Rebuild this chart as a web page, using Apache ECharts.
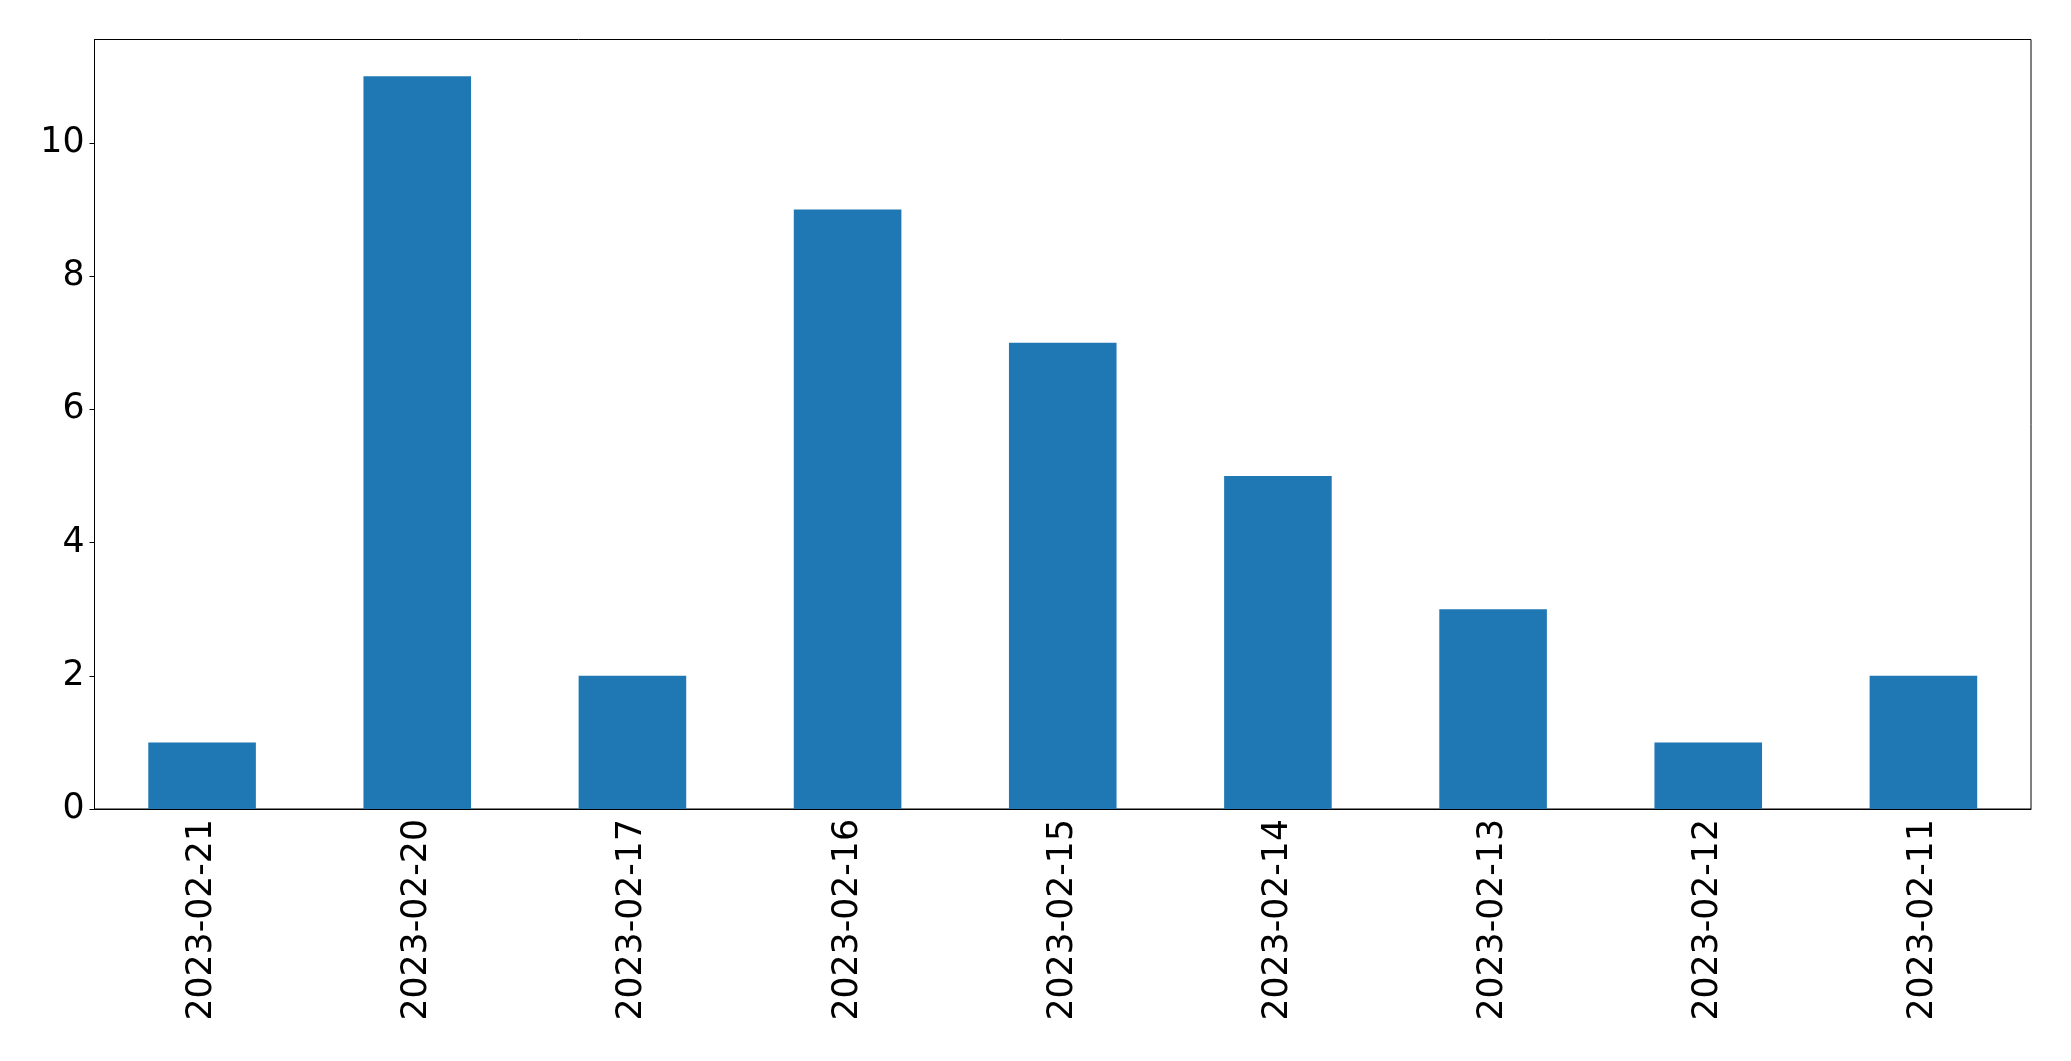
<!DOCTYPE html>
<html>
<head>
<meta charset="utf-8">
<script src="https://cdn.jsdelivr.net/npm/echarts@6/dist/echarts.min.js"></script>
<style>
html,body{margin:0;padding:0;background:#fff;}
#chart{width:2071px;height:1061px;}
</style>
</head>
<body>
<div id="chart"></div>
<script>
const categories = ['2023-02-21','2023-02-20','2023-02-17','2023-02-16','2023-02-15','2023-02-14','2023-02-13','2023-02-12','2023-02-11'];
const values = [1, 11, 2, 9, 7, 5, 3, 1, 2];
const yTicks = [0, 2, 4, 6, 8, 10];

const chart = echarts.init(document.getElementById('chart'), null, {renderer: 'canvas'});
const font = 'DejaVu Sans';
chart.setOption({
  animation: false,
  backgroundColor: '#ffffff',
  grid: {
    left: 94.5, top: 39.5, right: 40, bottom: 252,
    show: true, borderColor: '#000000', borderWidth: 1, backgroundColor: 'transparent'
  },
  xAxis: {
    type: 'category',
    data: categories,
    boundaryGap: true,
    axisLine: {lineStyle: {color: '#000000', width: 1}},
    axisTick: {alignWithLabel: true, length: 5, lineStyle: {color: '#000000', width: 1}},
    axisLabel: {rotate: 90, fontFamily: font, fontSize: 34.7, color: '#000000', margin: 10, interval: 0}
  },
  yAxis: {
    type: 'value',
    min: 0, max: 11.55, interval: 2,
    splitLine: {show: false},
    axisLine: {show: true, lineStyle: {color: '#000000', width: 1}},
    axisTick: {show: true, length: 5, customValues: yTicks, lineStyle: {color: '#000000', width: 1}},
    axisLabel: {fontFamily: font, fontSize: 34.7, color: '#000000', margin: 10, customValues: yTicks}
  },
  series: [{
    type: 'bar',
    data: values,
    barWidth: '50%',
    itemStyle: {color: '#1f77b4'}
  }]
});
</script>
</body>
</html>
